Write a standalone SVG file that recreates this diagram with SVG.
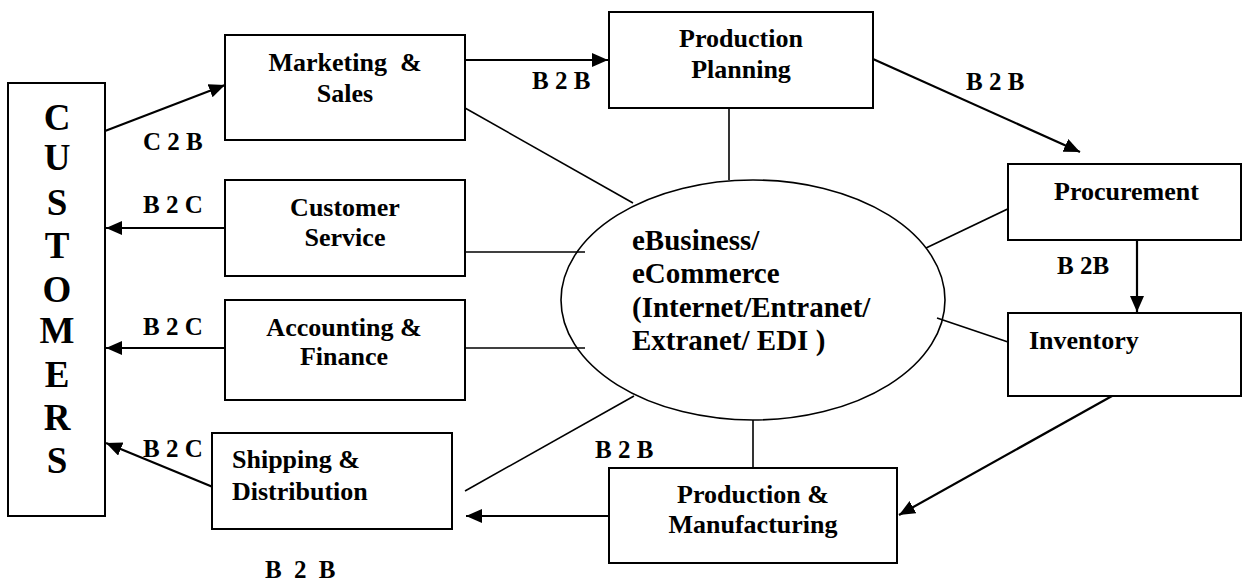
<svg xmlns="http://www.w3.org/2000/svg" width="1243" height="582" viewBox="0 0 1243 582">
<style>
.box{fill:#fff;stroke:#000;stroke-width:2}
.t{font-family:"Liberation Serif","Times New Roman",serif;font-weight:bold;fill:#000}
.bt{font-size:26px;text-anchor:middle}
.lt{font-size:25px}
.ct{font-size:37px;text-anchor:middle}
.et{font-size:29px}
.ln{stroke:#000;stroke-width:1.6;fill:none}
.ar{stroke:#000;stroke-width:2.2;fill:none;marker-end:url(#ah)}
</style>
<defs>
<marker id="ah" markerUnits="userSpaceOnUse" markerWidth="18" markerHeight="16" refX="16" refY="7" orient="auto">
<path d="M0,0 L16,7 L0,14 z" fill="#000"/>
</marker>
</defs>
<rect width="1243" height="582" fill="#fff"/>
<g id="connectors">
<line class="ar" x1="105" y1="131" x2="225" y2="85"/>
<line class="ar" x1="225" y1="228" x2="106" y2="228"/>
<line class="ar" x1="225" y1="348" x2="106" y2="348"/>
<line class="ar" x1="225" y1="492" x2="106" y2="443"/>
<line class="ar" x1="465" y1="60" x2="608" y2="60"/>
<line class="ar" x1="873" y1="59" x2="1080" y2="152"/>
<line class="ar" x1="1137" y1="240" x2="1137" y2="312"/>
<line class="ar" x1="1112" y1="396" x2="899" y2="515"/>
<line class="ar" x1="609" y1="516" x2="466" y2="516"/>
<line class="ln" x1="465" y1="108" x2="633" y2="203"/>
<line class="ln" x1="729" y1="108" x2="729" y2="180"/>
<line class="ln" x1="1018" y1="204" x2="926" y2="248"/>
<line class="ln" x1="465" y1="252" x2="585" y2="252"/>
<line class="ln" x1="465" y1="348" x2="585" y2="348"/>
<line class="ln" x1="1008" y1="342" x2="937" y2="318"/>
<line class="ln" x1="634" y1="396" x2="465" y2="491"/>
<line class="ln" x1="753" y1="420" x2="753" y2="468"/>
<text class="t lt" x="143" y="150">C 2 B</text>
<text class="t lt" x="143" y="213">B 2 C</text>
<text class="t lt" x="143" y="335">B 2 C</text>
<text class="t lt" x="143" y="457">B 2 C</text>
<text class="t lt" x="532" y="89">B 2 B</text>
<text class="t lt" x="966" y="90">B 2 B</text>
<text class="t lt" x="1057" y="274">B 2B</text>
<text class="t lt" x="595" y="458">B 2 B</text>
<text class="t lt" x="265" y="578" letter-spacing="3">B 2 B</text>
</g>
<g id="customers">
<rect class="box" x="8" y="83" width="97" height="433"/>
<text class="t ct" x="57" y="130">C</text>
<text class="t ct" x="57" y="170">U</text>
<text class="t ct" x="57" y="215">S</text>
<text class="t ct" x="57" y="258">T</text>
<text class="t ct" x="57" y="302">O</text>
<text class="t ct" x="57" y="343">M</text>
<text class="t ct" x="57" y="387">E</text>
<text class="t ct" x="57" y="430">R</text>
<text class="t ct" x="57" y="473">S</text>
</g>
<g id="marketing">
<rect class="box" x="225" y="35" width="240" height="105"/>
<text class="t bt" x="345" y="71" xml:space="preserve">Marketing  &amp;</text>
<text class="t bt" x="345" y="102">Sales</text>
</g>
<g id="customer-service">
<rect class="box" x="225" y="180" width="240" height="96"/>
<text class="t bt" x="345" y="216">Customer</text>
<text class="t bt" x="345" y="246">Service</text>
</g>
<g id="accounting">
<rect class="box" x="225" y="300" width="240" height="100"/>
<text class="t bt" x="344" y="336">Accounting &amp;</text>
<text class="t bt" x="344" y="365">Finance</text>
</g>
<g id="shipping">
<rect class="box" x="212" y="433" width="240" height="96"/>
<text class="t" font-size="26" x="232" y="468">Shipping &amp;</text>
<text class="t" font-size="26" x="232" y="500">Distribution</text>
</g>
<g id="production-planning">
<rect class="box" x="609" y="12" width="264" height="96"/>
<text class="t bt" x="741" y="47">Production</text>
<text class="t bt" x="741" y="78">Planning</text>
</g>
<g id="procurement">
<rect class="box" x="1008" y="164" width="233" height="76"/>
<text class="t" font-size="26" x="1054" y="200">Procurement</text>
</g>
<g id="inventory">
<rect class="box" x="1008" y="313" width="233" height="83"/>
<text class="t" font-size="26" x="1029" y="349">Inventory</text>
</g>
<g id="production-manufacturing">
<rect class="box" x="609" y="468" width="288" height="95"/>
<text class="t bt" x="753" y="503">Production &amp;</text>
<text class="t bt" x="753" y="533">Manufacturing</text>
</g>
<g id="ebusiness">
<ellipse cx="753" cy="300" rx="192" ry="120" fill="none" stroke="#000" stroke-width="1.6"/>
<text class="t et" x="632" y="250">eBusiness/</text>
<text class="t et" x="632" y="283">eCommerce</text>
<text class="t et" x="632" y="317">(Internet/Entranet/</text>
<text class="t et" x="632" y="350">Extranet/ EDI )</text>
</g>
</svg>
